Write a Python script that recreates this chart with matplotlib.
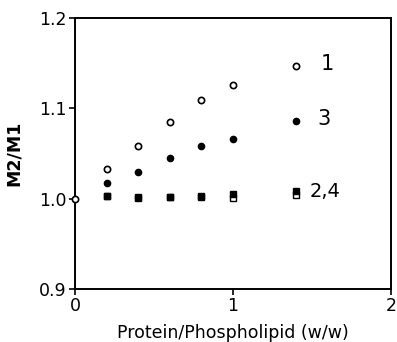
import numpy as np
import matplotlib
matplotlib.use("Agg")
import matplotlib.pyplot as plt

# protein/phospholipid ratio (w/w)
ratio = [0.0, 0.2, 0.4, 0.6, 0.8, 1.0, 1.4]

# M2/M1 for each curve
curve1 = [1.000, 1.033, 1.058, 1.085, 1.109, 1.126, 1.147]
curve3 = [1.000, 1.017, 1.030, 1.045, 1.058, 1.066, 1.086]
curve2 = [1.000, 1.003, 1.002, 1.002, 1.003, 1.005, 1.008]
curve4 = [1.000, 1.003, 1.001, 1.002, 1.002, 1.001, 1.004]

curve_labels = ["1", "3", "2,4"]

plt.rcParams['font.family'] = ['DejaVu Sans']

fig = plt.figure(figsize=(3.97, 3.42), dpi=100)
ax = fig.add_axes([0.189, 0.155, 0.796, 0.792])

ms = 4.5
ax.plot(ratio[1:], curve4[1:], 's', mfc='white', mec='black', mew=1.0, ms=ms, clip_on=False)
ax.plot(ratio[1:], curve2[1:], 's', color='black', ms=ms, clip_on=False)
ax.plot(ratio[1:], curve3[1:], 'o', color='black', ms=ms, clip_on=False)
ax.plot(ratio, curve1, 'o', mfc='white', mec='black', mew=1.2, ms=ms, clip_on=False, zorder=5)

ax.annotate(curve_labels[0], (ratio[-1], curve1[-1]), xytext=(24, 2),
            textcoords='offset pixels', va='center', fontsize=15)
ax.annotate(curve_labels[1], (ratio[-1], curve3[-1]), xytext=(21, 2),
            textcoords='offset pixels', va='center', fontsize=15)
ax.annotate(curve_labels[2], (ratio[-1], curve2[-1]), xytext=(13, 0),
            textcoords='offset pixels', va='center', fontsize=14)

ax.set_xlim(0, 2)
ax.set_ylim(0.9, 1.2)
ax.set_xticks([0, 1, 2])
ax.set_yticks([0.9, 1.0, 1.1, 1.2])
ax.set_yticklabels(['0.9', '1.0', '1.1', '1.2'])
ax.tick_params(direction='out', length=4, width=1.2, labelsize=12.5, pad=2)

for s in ax.spines.values():
    s.set_linewidth(1.4)

ax.set_xlabel('Protein/Phospholipid (w/w)', fontsize=12.5, labelpad=6)
ax.set_ylabel('M2/M1', fontsize=12.5, fontweight='bold', labelpad=12)

fig.savefig('out.png', dpi=100)
